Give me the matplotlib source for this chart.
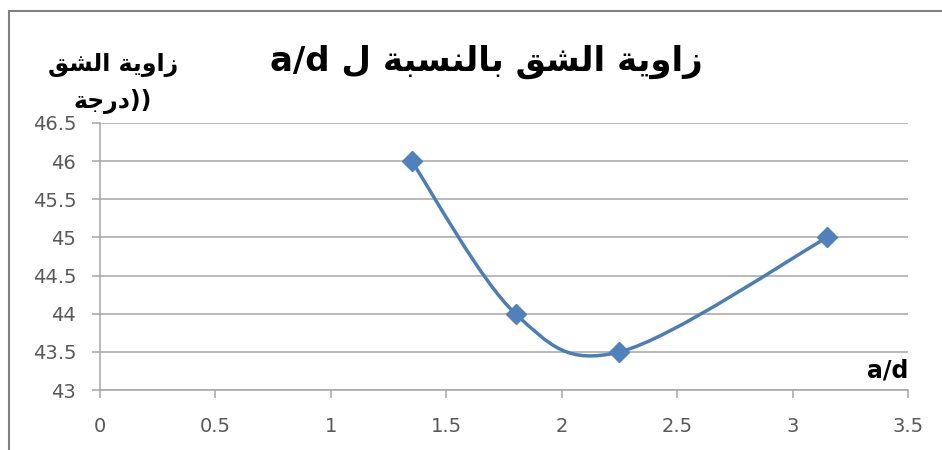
"""Crack angle vs a/d ratio — Excel-style smoothed line chart."""

import matplotlib
matplotlib.use("Agg")
import matplotlib.pyplot as plt
from matplotlib.path import Path
from matplotlib.patches import PathPatch, Rectangle

# data
ratio_ad = [1.35, 1.8, 2.25, 3.15]
crack_angle = [46, 44, 43.5, 45]
x_ticks = [0, 0.5, 1, 1.5, 2, 2.5, 3, 3.5]
y_ticks = [43, 43.5, 44, 44.5, 45, 45.5, 46, 46.5]

# Arabic text, written in presentation forms and visual (left-to-right) order
# because matplotlib does no shaping / bidi
title_text = "a/d \uFEDD \uFE94\uFE92\uFEB4\uFEE8\uFEDF\uFE8E\uFE91 \uFED6\uFEB8\uFEDF\uFE8D \uFE94\uFEF3\uFEED\uFE8D\uFEAF"
ylabel_line1 = "\uFED6\uFEB8\uFEDF\uFE8D \uFE94\uFEF3\uFEED\uFE8D\uFEAF"
ylabel_line2 = "\uFE94\uFE9F\uFEAD\uFEA9))"
xlabel_text = "a/d"

LINE_BLUE = "#4A7EBB"
MARKER_BLUE = "#4F81BD"
GRID_GRAY = "#A6A6A6"
TEXT_GRAY = "#595959"

plt.rcParams["font.family"] = ["DejaVu Sans"]


def excel_smooth_path(xs, ys):
    """Cardinal-spline Bezier path like Excel's 'smoothed line'."""
    pts = list(zip(xs, ys))
    verts = [pts[0]]
    codes = [Path.MOVETO]
    n = len(pts)
    for i in range(n - 1):
        p0 = pts[i - 1] if i > 0 else pts[i]
        p1 = pts[i]
        p2 = pts[i + 1]
        p3 = pts[i + 2] if i + 2 < n else pts[i + 1]
        c1 = (p1[0] + (p2[0] - p0[0]) / 6, p1[1] + (p2[1] - p0[1]) / 6)
        c2 = (p2[0] - (p3[0] - p1[0]) / 6, p2[1] - (p3[1] - p1[1]) / 6)
        verts += [c1, c2, p2]
        codes += [Path.CURVE4] * 3
    return Path(verts, codes)


fig = plt.figure(figsize=(9.42, 4.5), dpi=100)
ax = fig.add_axes([0.106, 0.133, 0.858, 0.594])

ax.set_xlim(0, 3.5)
ax.set_ylim(43, 46.5)
ax.set_xticks(x_ticks)
ax.set_xticklabels([f"{v:g}" for v in x_ticks])
ax.set_yticks(y_ticks)
ax.set_yticklabels([f"{v:g}" for v in y_ticks])

ax.grid(axis="y", color=GRID_GRAY, linewidth=1.1)
ax.set_axisbelow(True)
for side in ("top", "right"):
    ax.spines[side].set_visible(False)
for side in ("left", "bottom"):
    ax.spines[side].set_color(GRID_GRAY)
    ax.spines[side].set_linewidth(1.1)
ax.tick_params(axis="both", colors=GRID_GRAY, length=6, width=1.1, labelsize=14,
               labelcolor=TEXT_GRAY)
ax.tick_params(axis="y", pad=11)
ax.tick_params(axis="x", pad=13)

ax.add_patch(PathPatch(excel_smooth_path(ratio_ad, crack_angle), facecolor="none",
                       edgecolor=LINE_BLUE, linewidth=2.5, capstyle="round", zorder=3))
ax.plot(ratio_ad, crack_angle, linestyle="none", marker="D", markersize=10.5,
        color=MARKER_BLUE, zorder=4)

ax.text(1.0, 0.03, xlabel_text, transform=ax.transAxes, ha="right", va="bottom",
        fontsize=17, fontweight="bold", color="black")

fig.text(0.516, 0.862, title_text, ha="center", va="center", fontsize=24.5,
         fontweight="bold", color="black")
fig.text(0.12, 0.856, ylabel_line1, ha="center", va="center", fontsize=17,
         fontweight="bold", color="black")
fig.text(0.12, 0.775, ylabel_line2, ha="center", va="center", fontsize=17,
         fontweight="bold", color="black")

# chart area border (only left and top edges fall inside the picture)
fig.add_artist(Rectangle((9 / 942, -0.1), 1.2, 1.1 - 11 / 450, transform=fig.transFigure,
                         facecolor="none", edgecolor="#7F7F7F", linewidth=1.5))

fig.savefig("out.png", dpi=100)
